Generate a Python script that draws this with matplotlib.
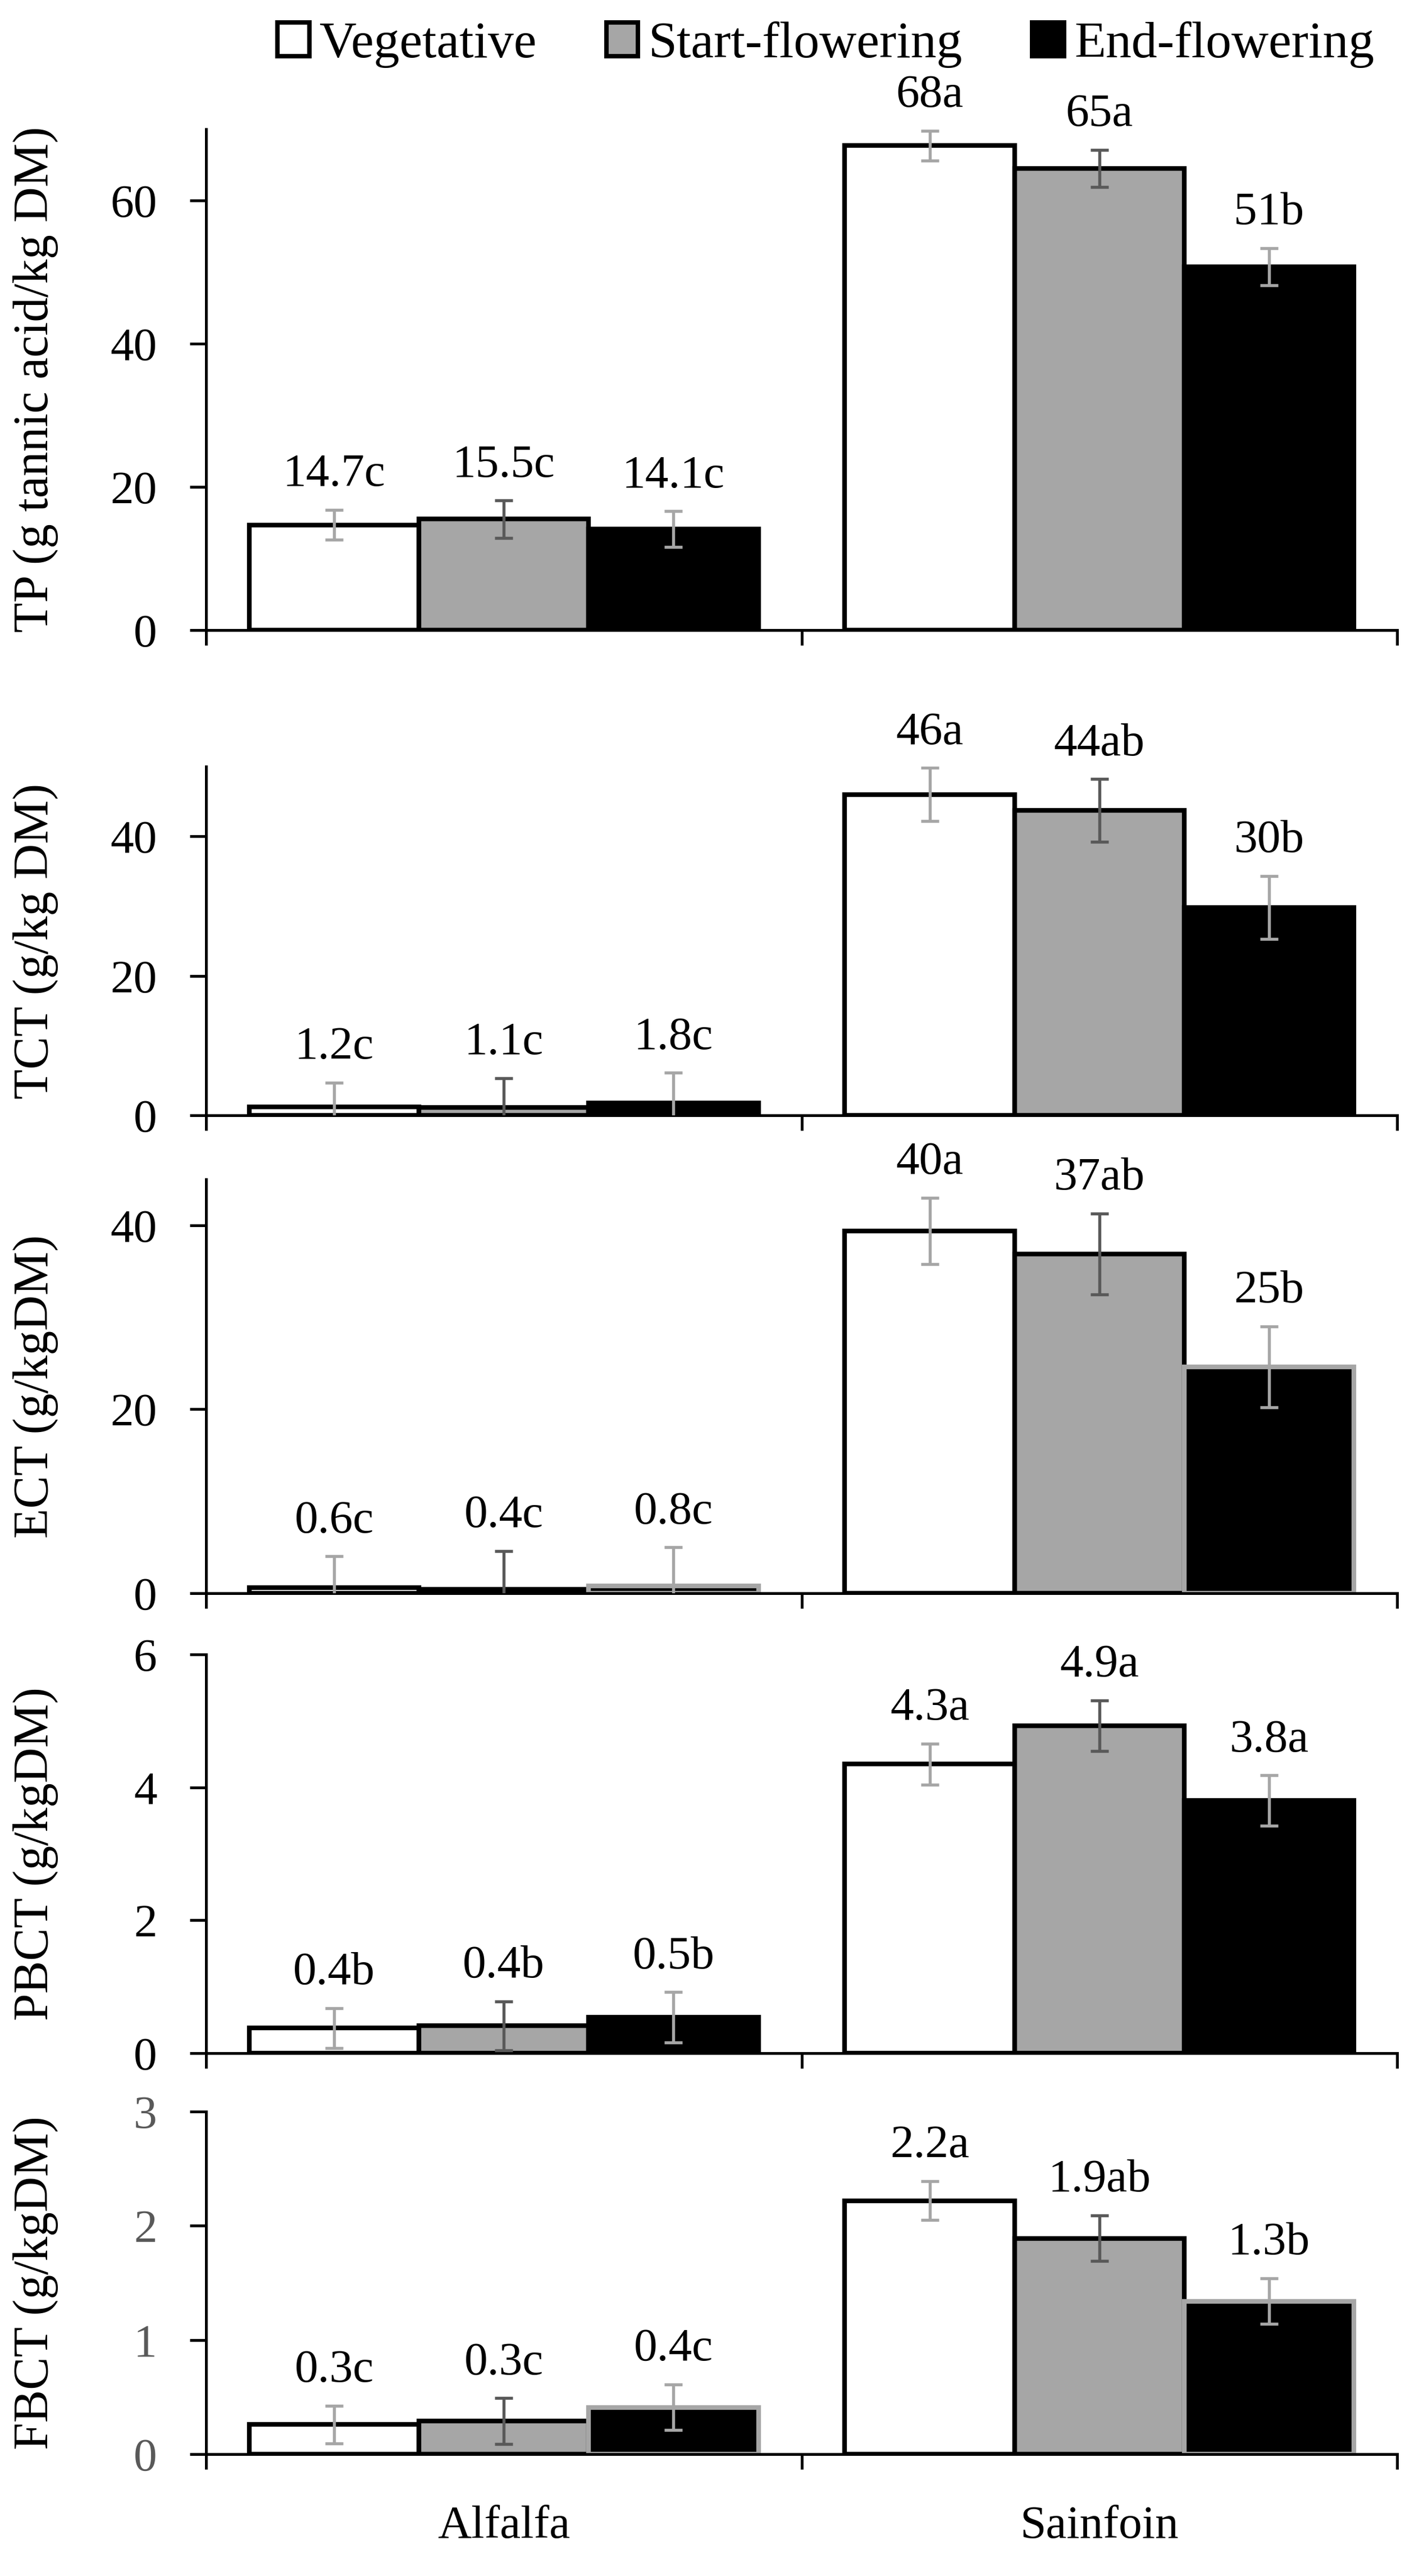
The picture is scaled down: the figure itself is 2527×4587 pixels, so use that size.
import numpy as np
import matplotlib
matplotlib.use("Agg")
import matplotlib.pyplot as plt
from matplotlib.patches import Patch

plt.rcParams['font.family'] = ['Liberation Serif', 'DejaVu Serif']

crops = ['Alfalfa', 'Sainfoin']
stages = ['Vegetative', 'Start-flowering', 'End-flowering']

# rows = stages, columns = crops
tp_values = [[14.7, 67.7], [15.5, 64.5], [14.1, 50.8]]
tp_errors = [[2.1, 2.1], [2.6, 2.6], [2.5, 2.6]]
tp_labels = [['14.7c', '68a'], ['15.5c', '65a'], ['14.1c', '51b']]

tct_values = [[1.2, 46.0], [1.1, 43.7], [1.8, 29.8]]
tct_errors = [[3.5, 3.8], [4.2, 4.5], [4.3, 4.5]]
tct_labels = [['1.2c', '46a'], ['1.1c', '44ab'], ['1.8c', '30b']]

ect_values = [[0.6, 39.4], [0.4, 36.9], [0.8, 24.6]]
ect_errors = [[3.4, 3.6], [4.2, 4.4], [4.2, 4.4]]
ect_labels = [['0.6c', '40a'], ['0.4c', '37ab'], ['0.8c', '25b']]

pbct_values = [[0.38, 4.35], [0.41, 4.93], [0.54, 3.80]]
pbct_errors = [[0.30, 0.31], [0.37, 0.38], [0.38, 0.38]]
pbct_labels = [['0.4b', '4.3a'], ['0.4b', '4.9a'], ['0.5b', '3.8a']]

fbct_values = [[0.26, 2.22], [0.29, 1.89], [0.41, 1.34]]
fbct_errors = [[0.165, 0.17], [0.2, 0.2], [0.2, 0.2]]
fbct_labels = [['0.3c', '2.2a'], ['0.3c', '1.9ab'], ['0.4c', '1.3b']]

ylabels = ['TP (g tannic acid/kg DM)', 'TCT (g/kg DM)', 'ECT (g/kgDM)',
           'PBCT (g/kgDM)', 'FBCT (g/kgDM)']
yticks = [[0, 20, 40, 60], [0, 20, 40], [0, 20, 40], [0, 2, 4, 6], [0, 1, 2, 3]]
ylims = [70, 50, 45, 6, 3]

fills = ['white', '#A6A6A6', 'black']
err_colors = ['#A6A6A6', '#595959', '#A6A6A6']
# edge colour of the end-flowering bars differs between panels
end_edges = ['black', 'black', '#A6A6A6', 'black', '#A6A6A6']

# axes boxes in pixels (top, bottom) of the 2527x4587 picture
W, H = 2527, 4587
boxes = [(230, 1122), (1365, 1986), (2100, 2837), (2946, 3656), (3760, 4370)]
LEFT, RIGHT = 367, 2488


def draw_panel(ax, values, errors, labels, k):
    x = np.arange(len(crops))
    width = 0.285
    for i, stage in enumerate(stages):
        pos = x + (i - 1) * width
        edge = end_edges[k] if i == 2 else 'black'
        ax.bar(pos, values[i], width, color=fills[i], edgecolor=edge,
               linewidth=2.0, zorder=2)
        ax.errorbar(pos, values[i], yerr=errors[i], fmt='none',
                    ecolor=err_colors[i], elinewidth=1.3, capsize=3.8,
                    capthick=1.3, zorder=3)
        for j in range(len(crops)):
            ax.annotate(labels[i][j], (pos[j], values[i][j] + errors[i][j]),
                        xytext=(0, 15), textcoords='offset points',
                        ha='center', va='center', fontsize=20)
    ax.set_xlim(-0.5, 1.5)
    ax.set_ylim(0, ylims[k])
    ax.set_yticks(yticks[k])
    ax.set_xticks([-0.5, 0.5, 1.5])
    ax.set_xticklabels([])
    for s in ['top', 'right']:
        ax.spines[s].set_visible(False)
    for s in ['left', 'bottom']:
        ax.spines[s].set_linewidth(1.2)
    ax.tick_params(axis='y', direction='out', length=7, width=1.2,
                   pad=14, labelsize=20)
    ax.tick_params(axis='x', direction='out', length=6.5, width=1.2)


fig = plt.figure(figsize=(W / 300, H / 300), dpi=300)
data = [(tp_values, tp_errors, tp_labels),
        (tct_values, tct_errors, tct_labels),
        (ect_values, ect_errors, ect_labels),
        (pbct_values, pbct_errors, pbct_labels),
        (fbct_values, fbct_errors, fbct_labels)]

axes = []
for k, (top, bottom) in enumerate(boxes):
    ax = fig.add_axes([LEFT / W, 1 - bottom / H, (RIGHT - LEFT) / W,
                       (bottom - top) / H])
    draw_panel(ax, *data[k], k)
    fig.text(0.025, 1 - (top + bottom) / 2 / H, ylabels[k], rotation=90,
             ha='center', va='center', fontsize=21)
    axes.append(ax)

# grey tick labels on the last panel
axes[-1].tick_params(axis='y', labelcolor='#595959')

# category names under the last panel
axes[-1].set_xticks([0, 1], minor=True)
axes[-1].set_xticklabels(crops, minor=True, fontsize=20)
axes[-1].tick_params(axis='x', which='minor', length=0, pad=22)

handles = [Patch(facecolor=fills[i], edgecolor='black', linewidth=1.9)
           for i in range(3)]
fig.legend(handles, stages, loc='center', bbox_to_anchor=(0.582, 0.9826),
           ncol=3, frameon=False, fontsize=22, handlelength=0.62,
           handleheight=0.62, handletextpad=0.2, columnspacing=1.35)

fig.savefig('out.png', dpi=300)
